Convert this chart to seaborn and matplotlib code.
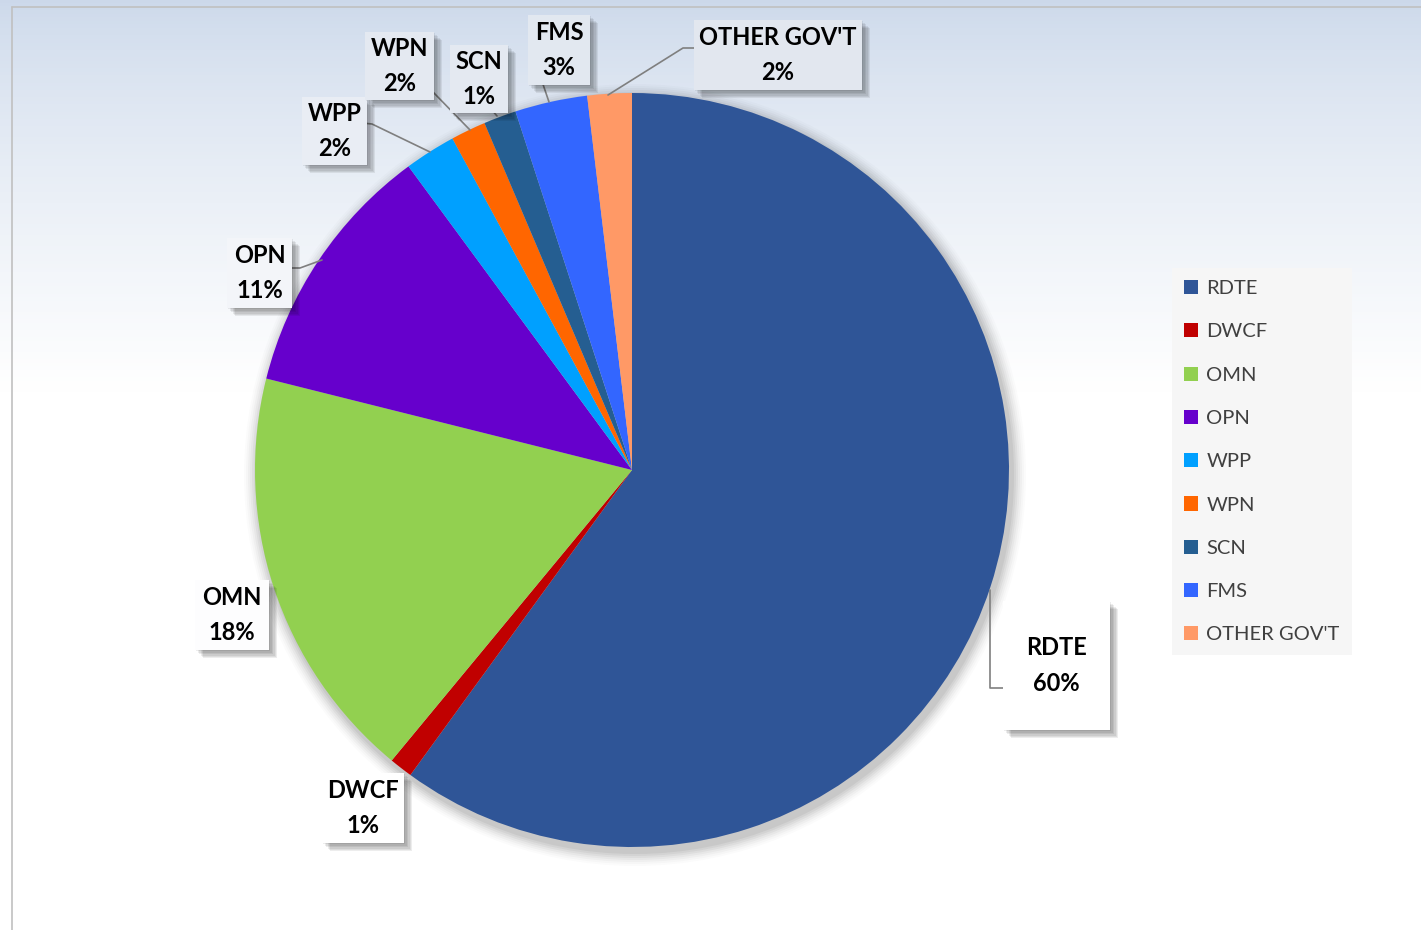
import numpy as np
import matplotlib
matplotlib.use("Agg")
import matplotlib.pyplot as plt
import matplotlib.patheffects as pe
from matplotlib.patches import Rectangle, Circle
import seaborn as sns

# data
categories = ["RDTE", "DWCF", "OMN", "OPN", "WPP", "WPN", "SCN", "FMS", "OTHER GOV'T"]
shares = [60.0, 1.0, 17.9, 11.0, 2.2, 1.5, 1.4, 3.1, 1.9]
pct_labels = ["60%", "1%", "18%", "11%", "2%", "2%", "1%", "3%", "2%"]
colors = ["#2F5597", "#C00000", "#92D050", "#6600CC", "#00A0FF",
          "#FF6600", "#255E91", "#3366FF", "#FF9966"]

sns.set_theme(style="white")
plt.rcParams["font.family"] = ["Lato", "DejaVu Sans"]

W, H = 1421, 930
fig = plt.figure(figsize=(W / 100, H / 100), dpi=100)

# background gradient
bg = fig.add_axes([0, 0, 1, 1], zorder=0)
grad = np.linspace(0, 1, 256)[:, None]
top = np.array([0.80, 0.85, 0.92])
bottom = np.array([1.0, 1.0, 1.0])
t = np.clip(grad / 0.42, 0, 1) ** 0.75
img = top * (1 - t[..., None]) + bottom * t[..., None]
img = np.repeat(img, 4, axis=1)
bg.imshow(img, aspect="auto", extent=[0, 1, 0, 1])
bg.set_axis_off()

ax = fig.add_axes([0, 0, 1, 1], zorder=1)
ax.patch.set_alpha(0)


def Y(y):
    return H - y


cx, cy, r = 632, Y(470), 377

# soft shadow around the pie
for k, a in zip(range(14, 0, -2), np.linspace(0.015, 0.05, 7)):
    ax.add_patch(Circle((cx + 3, cy - 5), r + k, color="black", alpha=a, lw=0, zorder=1))

wedges, _ = ax.pie(shares, colors=colors, startangle=90, counterclock=False,
                   center=(cx, cy), radius=r, wedgeprops=dict(linewidth=0))
for w in wedges:
    w.set_zorder(2)

# frame lines
ax.plot([12, 12], [Y(7), Y(930)], color="#c0c0c0", lw=1.2, zorder=1)
ax.plot([12, W], [Y(7), Y(7)], color="#c0c0c0", lw=1.2, zorder=1)

# label boxes (x0, y0, x1, y1 in pixels from top-left)
boxes = [
    (1003, 601, 1110, 730),
    (322, 773, 404, 843),
    (195, 580, 269, 650),
    (227, 238, 292, 308),
    (302, 97, 367, 165),
    (365, 32, 434, 100),
    (450, 45, 508, 113),
    (528, 15, 590, 85),
    (694, 20, 862, 90),
]
box_faces = ["#ffffff", "#ffffff", "#fdfdfe", "#f3f5f9", "#e9edf4",
             "#e4e9f1", "#e4e9f1", "#e2e8f0", "#e2e7ef"]

# leader lines
leaders = [
    [(990, 590), (990, 688), (1003, 688)],
    [(608, 95), (683, 48), (695, 48)],
    [(549, 102), (529, 43)],
    [(497, 116), (452, 63)],
    [(470, 130), (433, 92), (417, 91)],
    [(430, 152), (372, 124), (362, 123)],
    [(322, 260), (300, 268), (287, 268)],
]
for pts in leaders:
    xs = [p[0] for p in pts]
    ys = [Y(p[1]) for p in pts]
    ax.plot(xs, ys, color="#7f7f7f", lw=1.2, zorder=3)

shadow = [pe.SimplePatchShadow(offset=(s, -s), shadow_rgbFace="black", alpha=0.07)
          for s in (1, 2, 3, 4, 5, 6)] + [pe.Normal()]
for (x0, y0, x1, y1), fc, name, pct in zip(boxes, box_faces, categories, pct_labels):
    rect = Rectangle((x0, Y(y1)), x1 - x0, y1 - y0, facecolor=fc,
                     edgecolor="none", zorder=4)
    rect.set_path_effects(shadow)
    ax.add_patch(rect)
    ax.text((x0 + x1) / 2, Y((y0 + y1) / 2), f"{name}\n{pct}", ha="center", va="center",
            fontsize=17, fontweight="bold", color="black", linespacing=1.65, zorder=5)

ax.set_xlim(0, W)
ax.set_ylim(0, H)
ax.set_axis_off()

leg = ax.legend(wedges, categories, loc="upper left",
                bbox_to_anchor=(1172 / W, 1 - 268 / H), bbox_transform=fig.transFigure,
                frameon=True, fancybox=False, facecolor="#f6f6f6", edgecolor="none",
                framealpha=1, fontsize=14.5, labelcolor="#404040",
                handlelength=0.7, handleheight=0.7, handletextpad=0.4,
                labelspacing=1.3, borderpad=0.6, borderaxespad=0)
leg.set_zorder(6)

fig.savefig("out.png", dpi=100)
